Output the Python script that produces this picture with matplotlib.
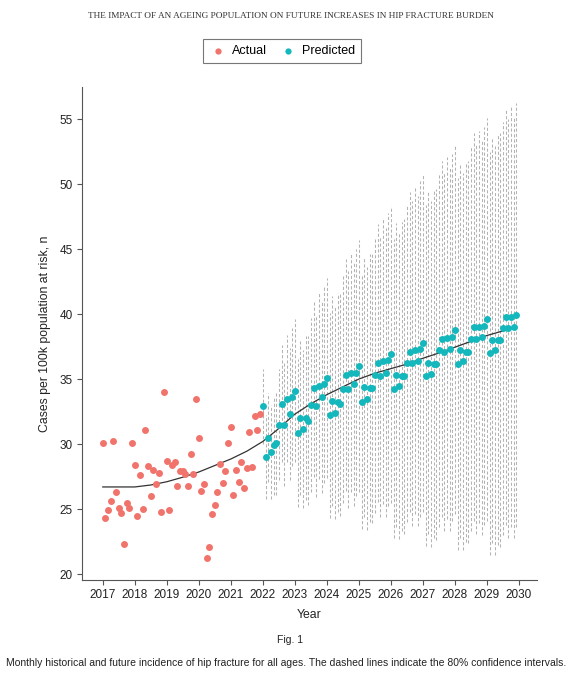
import numpy as np
import matplotlib.pyplot as plt

# monthly values, Jan 2017 - Dec 2021
actual = [30.1, 24.3, 24.9, 25.6, 30.2, 26.3, 25.1, 24.7, 22.3, 25.5, 25.1, 30.1,
          28.4, 24.5, 27.6, 25.0, 31.05, 28.3, 26.0, 28.0, 26.9, 27.8, 24.8, 34.0,
          28.7, 24.9, 28.4, 28.6, 26.8, 27.9, 27.95, 27.7, 26.8, 29.2, 27.7, 33.5,
          30.5, 26.4, 26.9, 21.2, 22.1, 24.6, 25.3, 26.3, 28.5, 27.0, 27.9, 30.05,
          31.3, 26.1, 28.0, 27.1, 28.6, 26.6, 28.15, 30.9, 28.2, 32.15, 31.1, 32.3]

# monthly values, Jan 2022 - Dec 2029
predicted = [32.9, 29.0, 30.5, 29.4, 29.9, 30.1, 31.5, 33.1, 31.5, 33.5, 32.3, 33.6,
             34.1, 30.85, 32.0, 31.15, 32.0, 31.8, 33.0, 34.3, 32.9, 34.5, 33.6, 34.6,
             35.1, 32.2, 33.3, 32.4, 33.2, 33.1, 34.2, 35.3, 34.2, 35.5, 34.6, 35.5,
             36.0, 33.25, 34.4, 33.5, 34.3, 34.3, 35.3, 36.25, 35.2, 36.4, 35.5, 36.5,
             36.9, 34.25, 35.3, 34.5, 35.2, 35.2, 36.2, 37.1, 36.2, 37.2, 36.4, 37.3,
             37.8, 35.25, 36.25, 35.4, 36.15, 36.15, 37.2, 38.1, 37.1, 38.15, 37.3, 38.2,
             38.8, 36.15, 37.2, 36.35, 37.1, 37.1, 38.1, 39.0, 38.1, 39.0, 38.2, 39.1,
             39.6, 37.0, 38.0, 37.2, 38.0, 38.0, 38.9, 39.8, 38.9, 39.8, 39.0, 39.9]

# half width of the 80% interval for each predicted month
ci_half = [2.9, 3.2, 3.4, 3.6, 3.8, 4.0, 4.3, 4.5, 4.7, 4.9, 5.1, 5.3,
           5.5, 5.7, 5.9, 6.1, 6.3, 6.5, 6.7, 6.8, 7.0, 7.2, 7.4, 7.6,
           7.7, 7.9, 8.1, 8.2, 8.4, 8.6, 8.7, 8.9, 9.1, 9.2, 9.4, 9.5,
           9.7, 9.8, 10.0, 10.1, 10.3, 10.4, 10.6, 10.7, 10.8, 11.0, 11.1, 11.3,
           11.4, 11.5, 11.7, 11.8, 11.9, 12.1, 12.2, 12.3, 12.5, 12.6, 12.7, 12.9,
           13.0, 13.1, 13.2, 13.3, 13.4, 13.5, 13.6, 13.7, 13.8, 13.9, 14.0, 14.1,
           14.2, 14.3, 14.4, 14.5, 14.6, 14.7, 14.8, 14.9, 15.0, 15.1, 15.2, 15.3,
           15.5, 15.5, 15.6, 15.7, 15.8, 15.9, 15.9, 16.0, 16.1, 16.2, 16.2, 16.3]

trend_years = [2017.0, 2017.5, 2018.0, 2018.5, 2019.0, 2019.5, 2020.0, 2020.5, 2021.0,
               2021.5, 2022.0, 2022.5, 2023.0, 2023.5, 2024.0, 2024.5, 2025.0, 2025.5,
               2026.0, 2026.5, 2027.0, 2027.5, 2028.0, 2028.5, 2029.0, 2029.5, 2029.92]
trend_values = [26.7, 26.7, 26.7, 26.85, 27.1, 27.45, 27.85, 28.35, 28.85,
                29.45, 30.2, 31.2, 32.3, 33.1, 33.8, 34.4, 35.0, 35.45,
                35.8, 36.15, 36.6, 37.0, 37.45, 37.9, 38.35, 38.7, 39.0]

year_ticks = list(range(2017, 2031))
y_ticks = [20, 25, 30, 35, 40, 45, 50, 55]

red = '#F0736C'
teal = '#14B8BC'
grey_txt = '#222222'

plt.rcParams['font.family'] = ['Liberation Sans', 'DejaVu Sans']

x_act = 2017 + np.arange(len(actual)) / 12
x_pred = 2022 + np.arange(len(predicted)) / 12
pred = np.array(predicted)
half = np.array(ci_half)

fig = plt.figure(figsize=(5.73, 6.8), dpi=100)
ax = fig.add_axes([0.143, 0.147, 0.794, 0.725])

ax.vlines(x_pred, pred - half, pred + half, colors='#b3b3b3',
          linestyles=(0, (3, 2)), linewidth=0.75, zorder=1)
ax.plot(trend_years, trend_values, color='#333333', linewidth=0.9, zorder=2)
ax.scatter(x_act, actual, s=25, color=red, label='Actual', zorder=3, linewidths=0)
ax.scatter(x_pred, predicted, s=25, color=teal, label='Predicted', zorder=3, linewidths=0)

ax.set_xlim(2016.35, 2030.56)
ax.set_ylim(19.54, 57.46)
ax.set_xticks(year_ticks)
ax.set_yticks(y_ticks)
ax.tick_params(direction='out', length=3.5, width=0.8, color='#555555',
               labelsize=8.5, labelcolor=grey_txt, pad=3)
for side in ['top', 'right']:
    ax.spines[side].set_visible(False)
for side in ['left', 'bottom']:
    ax.spines[side].set_color('#555555')
    ax.spines[side].set_linewidth(0.8)

ax.set_xlabel('Year', fontsize=8.8, color=grey_txt, labelpad=6)
ax.set_ylabel('Cases per 100k population at risk, n', fontsize=8.8, color=grey_txt, labelpad=6)

leg = fig.legend(loc='center', bbox_to_anchor=(0.492, 0.925), ncol=2, fontsize=9,
                 frameon=True, fancybox=False, edgecolor='#555555',
                 handletextpad=0.3, columnspacing=0.9, borderpad=0.45, markerscale=0.9,
                 handlelength=1.6)
leg.get_frame().set_linewidth(0.8)

fig.text(0.508, 0.976, 'THE IMPACT OF AN AGEING POPULATION ON FUTURE INCREASES IN HIP FRACTURE BURDEN',
         ha='center', va='center', fontsize=6.65, family=['Liberation Serif', 'DejaVu Serif'],
         color='#333333')
fig.text(0.506, 0.059, 'Fig. 1', ha='center', va='center', fontsize=7.5, color=grey_txt)
fig.text(0.5, 0.025, 'Monthly historical and future incidence of hip fracture for all ages. '
         'The dashed lines indicate the 80% confidence intervals.',
         ha='center', va='center', fontsize=7.5, color=grey_txt)

fig.savefig('out.png', dpi=100)
